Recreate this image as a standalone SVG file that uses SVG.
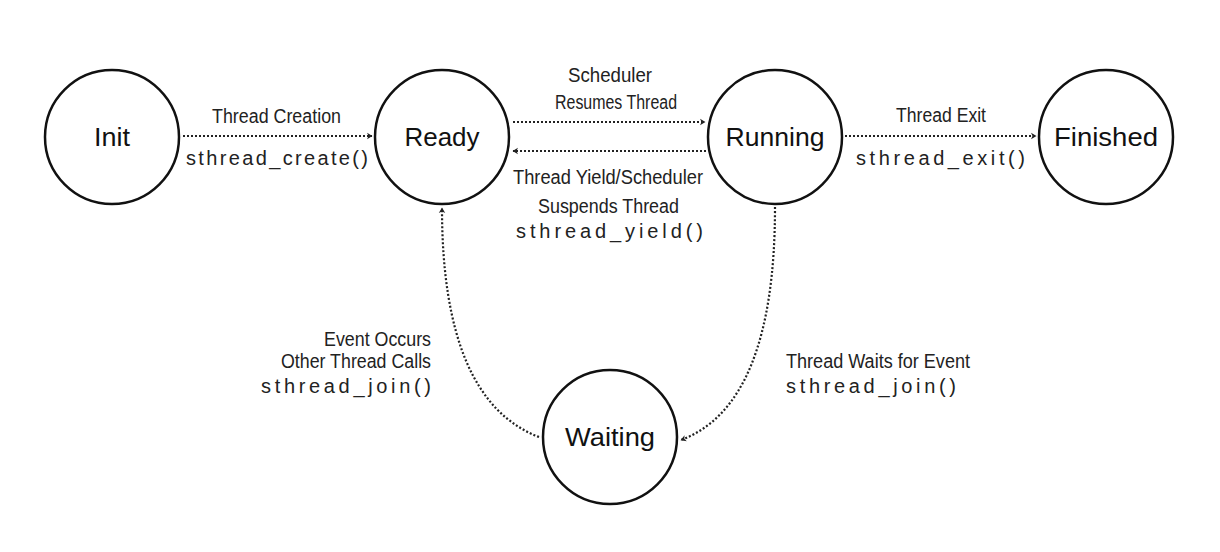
<svg xmlns="http://www.w3.org/2000/svg" width="1220" height="552" viewBox="0 0 1220 552">
<defs>
<marker id="ah" markerWidth="8" markerHeight="8" refX="6" refY="4" orient="auto" markerUnits="userSpaceOnUse">
<path d="M1,0.8 L6.5,4 L1,7.2 L2.5,4 Z" fill="#222"/>
</marker>
<style>
.node circle{fill:#fff;stroke:#111;stroke-width:2.5}
.node text{font-family:"Liberation Sans",Arial,sans-serif;font-size:25px;fill:#111;text-anchor:middle}
.conn path{fill:none;stroke:#222;stroke-width:2.2;stroke-dasharray:2 2;marker-end:url(#ah)}
.lbl{font-family:"Liberation Sans",Arial,sans-serif;font-size:19.5px;fill:#222}
.code{font-family:"Liberation Sans",Arial,sans-serif;font-size:20px;fill:#222}
</style>
</defs>
<rect width="1220" height="552" fill="#fff"/>
<g id="connectors" class="conn">
<path d="M183,136 L372,136"/>
<path d="M513,122 L705,122"/>
<path d="M706,151 L513,151"/>
<path d="M845,136 L1036,136"/>
<path d="M775,207 Q775,405 681,440"/>
<path d="M539,437 Q442,400 442,208"/>
</g>
<g id="init" class="node"><circle cx="112" cy="137" r="67"/><text x="112" y="146" textLength="36" lengthAdjust="spacingAndGlyphs">Init</text></g>
<g id="ready" class="node"><circle cx="442" cy="137" r="67"/><text x="442" y="146" textLength="75" lengthAdjust="spacingAndGlyphs">Ready</text></g>
<g id="running" class="node"><circle cx="775" cy="137" r="67"/><text x="775" y="146" textLength="99" lengthAdjust="spacingAndGlyphs">Running</text></g>
<g id="finished" class="node"><circle cx="1106" cy="137" r="67"/><text x="1106" y="146" textLength="104" lengthAdjust="spacingAndGlyphs">Finished</text></g>
<g id="waiting" class="node"><circle cx="610" cy="437" r="67"/><text x="610" y="446" textLength="90" lengthAdjust="spacingAndGlyphs">Waiting</text></g>
<g id="labels">
<text class="lbl" x="212" y="123" textLength="129" lengthAdjust="spacingAndGlyphs">Thread Creation</text>
<text class="code" x="186" y="165" textLength="182" lengthAdjust="spacing">sthread_create()</text>
<text class="lbl" x="568" y="82" textLength="84" lengthAdjust="spacingAndGlyphs">Scheduler</text>
<text class="lbl" x="555" y="109" textLength="122" lengthAdjust="spacingAndGlyphs">Resumes Thread</text>
<text class="lbl" x="513" y="184" textLength="190" lengthAdjust="spacingAndGlyphs">Thread Yield/Scheduler</text>
<text class="lbl" x="538" y="213" textLength="141" lengthAdjust="spacingAndGlyphs">Suspends Thread</text>
<text class="code" x="516" y="238" textLength="187" lengthAdjust="spacing">sthread_yield()</text>
<text class="lbl" x="896" y="122" textLength="90" lengthAdjust="spacingAndGlyphs">Thread Exit</text>
<text class="code" x="856" y="165" textLength="169" lengthAdjust="spacing">sthread_exit()</text>
<text class="lbl" x="324" y="346" textLength="107" lengthAdjust="spacingAndGlyphs">Event Occurs</text>
<text class="lbl" x="281" y="368" textLength="150" lengthAdjust="spacingAndGlyphs">Other Thread Calls</text>
<text class="code" x="261" y="393" textLength="170" lengthAdjust="spacing">sthread_join()</text>
<text class="lbl" x="786" y="368" textLength="184" lengthAdjust="spacingAndGlyphs">Thread Waits for Event</text>
<text class="code" x="786" y="393" textLength="170" lengthAdjust="spacing">sthread_join()</text>
</g>
</svg>
